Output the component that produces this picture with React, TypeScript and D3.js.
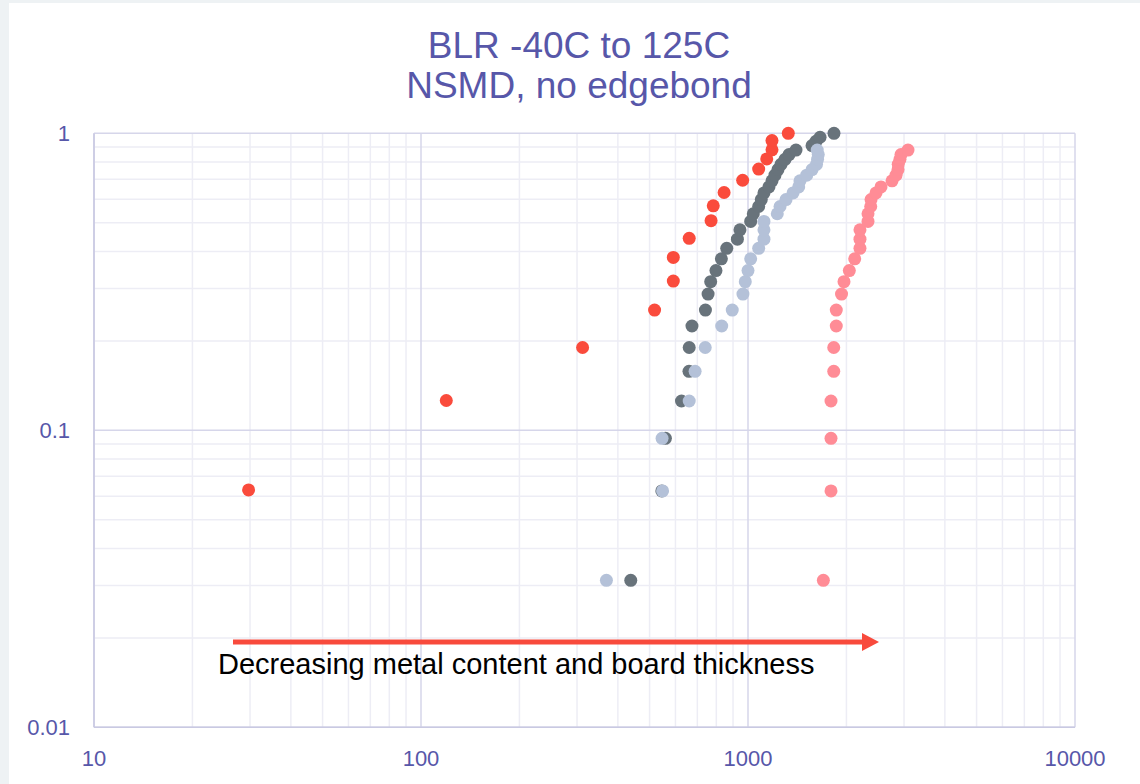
import React from "react";
import * as d3 from "d3";

const W = 1140;
const H = 784;

const titleLines = ["BLR -40C to 125C", "NSMD, no edgebond"];
const annotation = "Decreasing metal content and board thickness";

const xTicks = [10, 100, 1000, 10000];
const yTicks = [0.01, 0.1, 1];
const yTickLabels = ["0.01", "0.1", "1"];

// Series 1 (red)
const redX = [29.7, 119.5, 312, 518, 591, 591, 661, 771, 783, 845, 963, 1078, 1141, 1184, 1184, 1328];
const redY = [0.063, 0.126, 0.19, 0.254, 0.318, 0.382, 0.443, 0.508, 0.57, 0.632, 0.695, 0.758, 0.82, 0.88, 0.945, 1.0];

// Series 2 (dark gray)
const grayX = [438, 545, 559, 626, 660, 661, 674, 741, 755, 769, 798, 829, 861, 928, 945, 1019, 1038, 1078, 1098, 1119, 1159, 1184, 1209, 1235, 1262, 1298, 1335, 1402, 1570, 1614, 1661, 1832];
const grayY = [0.03125, 0.0625, 0.094, 0.1255, 0.158, 0.19, 0.2245, 0.254, 0.2876, 0.3165, 0.345, 0.378, 0.41, 0.44, 0.473, 0.505, 0.536, 0.567, 0.598, 0.63, 0.66, 0.692, 0.723, 0.755, 0.786, 0.817, 0.848, 0.878, 0.909, 0.94, 0.97, 1.0];

// Series 3 (light blue)
const blueX = [369, 548, 546, 661, 689, 740, 831, 895, 965, 981, 1000, 1019, 1078, 1119, 1119, 1119, 1229, 1253, 1307, 1373, 1429, 1442, 1512, 1570, 1620, 1632, 1640, 1628];
const blueY = [0.03125, 0.0625, 0.094, 0.1255, 0.158, 0.19, 0.2245, 0.254, 0.2876, 0.3165, 0.345, 0.378, 0.41, 0.44, 0.473, 0.505, 0.536, 0.567, 0.598, 0.63, 0.66, 0.692, 0.723, 0.755, 0.786, 0.817, 0.848, 0.878];

// Series 4 (pink)
const pinkX = [1700, 1794, 1794, 1794, 1829, 1829, 1862, 1862, 1932, 1966, 2041, 2120, 2200, 2200, 2200, 2328, 2328, 2373, 2378, 2463, 2551, 2757, 2836, 2876, 2880, 2916, 2937, 3085];
const pinkY = [0.03125, 0.0625, 0.094, 0.1255, 0.158, 0.19, 0.2245, 0.254, 0.2876, 0.3165, 0.345, 0.378, 0.41, 0.44, 0.473, 0.505, 0.536, 0.567, 0.598, 0.63, 0.66, 0.692, 0.723, 0.755, 0.786, 0.817, 0.848, 0.878];

const seriesColors = ["#FA4B3C", "#68737B", "#B4C1D8", "#FF8C96"];

export default function App() {
  const x = d3.scaleLog().domain([10, 10000]).range([94, 1075]);
  const y = d3.scaleLog().domain([0.01, 1]).range([727.3, 133.3]);

  const minorX: number[] = [];
  [10, 100, 1000].forEach((d) => {
    for (let k = 2; k <= 9; k++) minorX.push(d * k);
  });
  const minorY: number[] = [];
  [0.01, 0.1].forEach((d) => {
    for (let k = 2; k <= 9; k++) minorY.push(d * k);
  });

  const series = [
    { xs: redX, ys: redY, color: seriesColors[0] },
    { xs: grayX, ys: grayY, color: seriesColors[1] },
    { xs: blueX, ys: blueY, color: seriesColors[2] },
    { xs: pinkX, ys: pinkY, color: seriesColors[3] },
  ];

  const [x0, x1] = x.range();
  const [y0, y1] = y.range();
  const labelColor = "#5757A9";
  const font = "'Liberation Sans', Arial, sans-serif";

  return (
    <svg
      width={W}
      height={H}
      style={{ position: "absolute", left: 0, top: 0, display: "block" }}
    >
      <rect x={0} y={0} width={W} height={H} fill="#EEF2F4" />
      <rect x={9} y={3} width={W - 9} height={H - 3} fill="#FFFFFF" />

      {titleLines.map((t, i) => (
        <text
          key={t}
          x={579}
          y={58 + i * 40}
          textAnchor="middle"
          fontFamily={font}
          fontSize={37}
          fill={labelColor}
        >
          {t}
        </text>
      ))}

      {/* minor gridlines */}
      {minorX.map((v) => (
        <line key={"mx" + v} x1={x(v)} x2={x(v)} y1={y1} y2={y0} stroke="#EDEDF5" strokeWidth={1.5} />
      ))}
      {minorY.map((v) => (
        <line key={"my" + v} x1={x0} x2={x1} y1={y(v)} y2={y(v)} stroke="#EDEDF5" strokeWidth={1.5} />
      ))}
      {/* major gridlines */}
      {xTicks.map((v) => (
        <line key={"MX" + v} x1={x(v)} x2={x(v)} y1={y1} y2={y0} stroke="#D6D6EA" strokeWidth={1.5} />
      ))}
      {yTicks.map((v) => (
        <line key={"MY" + v} x1={x0} x2={x1} y1={y(v)} y2={y(v)} stroke="#D6D6EA" strokeWidth={1.5} />
      ))}
      <line x1={x0} x2={x0} y1={y1} y2={y0} stroke="#C9C9E2" strokeWidth={1.5} />
      <line x1={x0} x2={x1} y1={y0} y2={y0} stroke="#C9C9E2" strokeWidth={1.5} />

      {/* tick labels */}
      {yTicks.map((v, i) => (
        <text
          key={"yl" + v}
          x={70}
          y={y(v) + 8}
          textAnchor="end"
          fontFamily={font}
          fontSize={22}
          fill={labelColor}
        >
          {yTickLabels[i]}
        </text>
      ))}
      {xTicks.map((v) => (
        <text
          key={"xl" + v}
          x={x(v)}
          y={766}
          textAnchor="middle"
          fontFamily={font}
          fontSize={22}
          fill={labelColor}
        >
          {String(v)}
        </text>
      ))}

      {/* points */}
      {series.map((s, si) => (
        <g key={"s" + si}>
          {s.xs.map((xv, i) => (
            <circle key={i} cx={x(xv)} cy={y(s.ys[i])} r={6.5} fill={s.color} />
          ))}
        </g>
      ))}

      {/* annotation arrow */}
      <line x1={233} x2={864} y1={642} y2={642} stroke="#F84A3C" strokeWidth={5} />
      <path d="M862,633 L879,642 L862,651 Z" fill="#F84A3C" />
      <text x={218} y={674} fontFamily={font} fontSize={29} fill="#000000">
        {annotation}
      </text>
    </svg>
  );
}
